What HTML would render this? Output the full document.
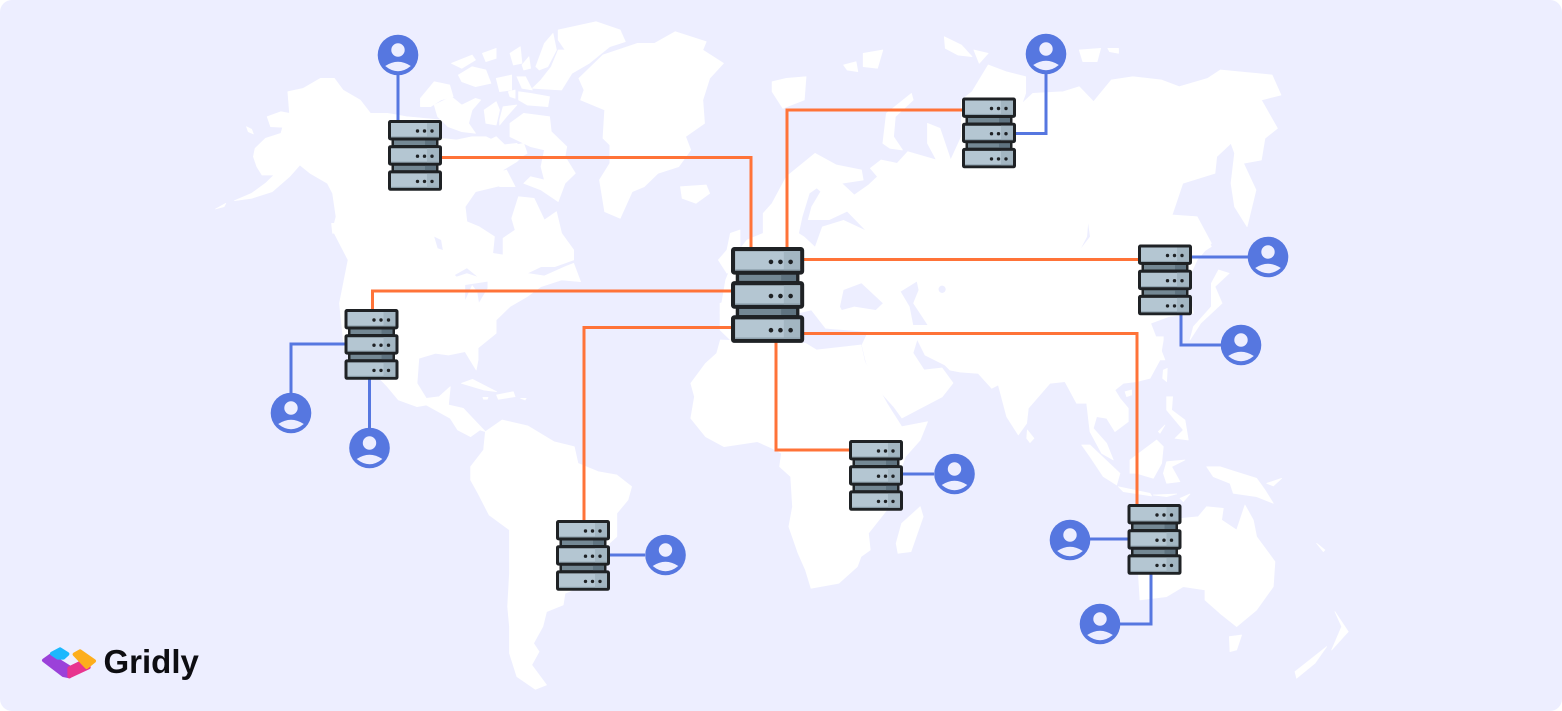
<!DOCTYPE html>
<html><head><meta charset="utf-8"><style>
html,body{margin:0;padding:0;background:#fff;width:1562px;height:711px;overflow:hidden}
svg{display:block}
</style></head><body>
<svg width="1562" height="711" viewBox="0 0 1562 711" xmlns="http://www.w3.org/2000/svg">
<defs>
<g id="unit">
<rect x="1.5" y="1.5" width="51" height="17.4" rx="1" fill="#b4c6d2" stroke="#1f2225" stroke-width="3"/>
<rect x="39" y="3" width="12" height="14.400" fill="#a3b6c2"/>
<rect x="3" y="16.400" width="48" height="1" fill="#8fa2ae"/>
<circle cx="29.500" cy="11" r="1.700" fill="#1f2225"/><circle cx="36.500" cy="11" r="1.700" fill="#1f2225"/><circle cx="44" cy="11" r="1.700" fill="#1f2225"/>
</g>
<g id="band">
<rect x="3.500" y="19" width="47" height="7" fill="#1f2225"/>
<rect x="6" y="20.500" width="42" height="4.500" fill="#748894"/>
<rect x="37" y="20.500" width="11" height="4.500" fill="#5f7380"/>
</g>
<g id="srv">
<use href="#band"/><use href="#band" y="25.200"/>
<use href="#unit"/><use href="#unit" y="25.200"/><use href="#unit" y="50.400"/>
</g>
<g id="usr">
<circle r="20.300" fill="#5677e0"/>
<circle cy="-5" r="6.700" fill="#edeeff"/>
<path d="M-12.800,11 Q0,2.500 12.800,11 Q0,21.500 -12.800,11Z" fill="#edeeff"/>
</g>
</defs>

<rect width="1562" height="711" rx="12" fill="#edeeff"/>

<g fill="#fff" stroke="#fff" stroke-width="2" stroke-linejoin="round">
<g transform="translate(200,10) scale(.3444,.3333)">
<polygon points="100,572 150,550 190,520 215,495 180,495 165,470 155,440 160,415 190,385 235,370 240,352 205,350 195,320 235,305 260,310 255,245 300,235 350,205 390,205 415,240 465,270 495,310 545,310 600,320 700,330 700,385 745,390 790,380 830,380 880,405 920,400 945,430 920,455 880,480 905,520 860,530 800,545 770,590 775,635 810,650 855,680 850,730 880,735 880,685 915,660 905,625 925,560 970,565 1000,630 1035,605 1050,670 1085,720 1085,750 1030,770 990,770 950,790 1000,798 1060,770 1085,760 1105,815 1050,810 990,830 950,860 900,890 860,930 860,970 800,1020 420,1030 405,880 430,750 405,700 385,660 395,620 385,550 370,520 320,490 290,465 260,500 210,545 150,565"/>
<polygon points="640,265 680,215 725,225 735,260 700,270 670,290 640,290"/>
<polygon points="680,285 730,260 760,285 800,265 815,270 790,300 780,340 800,370 760,365 720,350 690,320"/>
<polygon points="825,300 860,275 870,300 860,345 830,340"/>
<polygon points="870,330 880,290 920,285 890,320 870,345"/>
<polygon points="900,340 940,310 1015,320 1020,365 1065,410 1060,440 1090,490 1060,520 1040,575 990,540 940,520 960,500 1000,510 990,470 1000,420 960,410 900,380"/>
<polygon points="800,410 860,380 890,410 940,400 950,430 900,460 850,450"/>
<polygon points="860,490 890,480 915,530 870,530"/>
<polygon points="730,160 790,135 800,150 760,175"/>
<polygon points="750,195 790,170 830,180 845,220 800,230 760,215"/>
<polygon points="860,205 905,195 905,240 870,245"/>
<polygon points="925,245 960,250 1015,260 1010,290 950,285 925,270"/>
<polygon points="920,200 945,200 965,240 935,235"/>
<polygon points="1040,60 1150,35 1220,60 1235,95 1190,110 1130,160 1080,190 1050,240 965,235 990,210 1020,170 1040,120 1060,120 1040,90"/>
<polygon points="975,170 1000,100 1025,70 1035,120 1010,170 985,180"/>
<polygon points="820,130 860,115 860,145 830,155"/>
<polygon points="900,130 930,110 935,160 910,165"/>
<polygon points="935,165 955,140 960,175 940,180"/>
<polygon points="895,245 915,240 915,265 900,260"/>
<polygon points="1100,205 1170,135 1270,100 1320,100 1380,65 1470,95 1460,120 1520,160 1480,205 1460,270 1465,340 1410,380 1425,420 1390,470 1330,490 1290,530 1255,545 1220,625 1175,605 1160,510 1190,460 1190,405 1170,385 1175,300 1105,270 1115,240"/>
<polygon points="1395,530 1470,525 1480,550 1440,580 1400,565"/>
<polygon points="45,597 75,580 70,590"/>
<polygon points="135,350 150,358 155,372 140,365"/>
<polygon points="1505,750 1530,720 1540,670 1568,660 1568,760 1530,790"/>
<polygon points="1510,880 1550,868 1550,1000 1510,960"/>
<polygon points="382,640 392,640 392,670 385,670"/>
</g>
<g fill="#edeeff" stroke="none" transform="translate(200,10) scale(.3444,.3333)">
<polygon points="680,680 700,690 705,720 690,715"/>
<polygon points="740,795 775,775 805,800 775,790 745,800"/>
<polygon points="770,825 835,815 835,835 810,878 805,845 790,825 770,870"/>
</g>
<g transform="translate(740,20) scale(.3571,.3333)">
<polygon points="65,580 90,550 130,470 210,400 270,435 340,450 345,480 285,490 320,525 360,495 385,470 365,445 395,420 440,430 470,395 550,420 525,370 525,310 560,325 590,420 620,350 620,240 650,215 695,135 745,155 800,170 800,220 790,250 820,220 905,215 950,200 990,245 1040,180 1100,170 1180,180 1230,200 1310,175 1345,150 1490,165 1515,225 1460,240 1505,325 1470,355 1460,420 1410,430 1445,510 1420,620 1385,560 1375,490 1385,400 1375,370 1335,410 1330,460 1240,490 1210,585 1280,590 1320,670 1280,720 1250,790 1270,880 1200,890 1150,910 1190,1020 1000,1020 620,1020 530,950 360,935 240,925 200,870 160,880 140,890 -56,880 -40,780 -10,700 20,660 65,640"/>
<polygon points="90,185 130,175 185,170 180,240 120,265 90,215"/>
<polygon points="290,135 325,125 330,155 300,150"/>
<polygon points="345,100 400,90 385,145 345,140"/>
<polygon points="410,280 480,220 485,240 435,290 430,350 455,390 420,385 400,370"/>
<polygon points="572,50 620,75 650,110 610,105 575,85"/>
<polygon points="655,90 695,100 670,130"/>
<polygon points="950,90 1010,85 1000,125 960,125"/>
<polygon points="1030,85 1060,85 1060,100 1035,95"/>
<polygon points="1275,590 1320,680 1290,700 1270,650"/>
<polygon points="1340,750 1370,760 1330,800 1350,850 1290,910 1260,960 1270,920 1320,860 1320,790"/>
</g>
<g fill="#edeeff" stroke="none" transform="translate(740,20) scale(.3571,.3333)">
<polygon points="165,640 175,590 195,520 215,505 225,515 200,560 190,600 250,600 300,575 350,630 290,600 230,620 210,680 180,650"/>
<polygon points="280,860 290,810 340,790 400,850 380,870 320,860 285,870"/>
<polygon points="450,815 495,785 500,810 485,850 525,915 485,915 475,860"/>
<ellipse cx="566" cy="808" rx="10" ry="11"/>
<polygon points="975,610 980,650 955,685 972,650"/>
</g>
<polygon points="862,345 869,330 920,330 913,353 924,370 942,368 953,383 942,397 902,418 894,407 876,387 866,362" stroke-width=".7"/>
<polygon points="915,335 1000,335 1000,375 960,372 950,370 945,365 925,355" stroke-width=".7"/>
<g transform="translate(380,340) scale(.37,.3333)">
<polygon points="-95,0 -50,60 20,140 50,180 100,200 125,195 190,235 210,270 245,290 270,270 285,275 225,205 185,195 190,140 160,170 125,175 100,130 105,55 150,40 185,45 230,35 260,90 265,60 265,10 285,0"/>
<polygon points="220,130 250,118 315,155 280,150"/>
<polygon points="315,165 360,155 365,170 320,178"/>
<polygon points="278,172 292,172 290,178 280,178"/>
<polygon points="380,175 395,175 392,180"/>
<polygon points="285,275 330,240 400,258 470,305 525,320 535,370 590,395 640,405 680,440 670,480 640,520 640,590 620,610 610,690 590,720 500,760 495,795 450,815 440,860 415,910 430,935 410,975 450,1035 420,1048 370,1010 350,940 350,860 345,800 350,700 350,570 295,525 265,460 245,420 245,380 280,330"/>
<polygon points="840,130 880,70 910,40 920,0 1150,10 1180,30 1300,15 1310,65 1340,130 1370,190 1410,260 1480,245 1460,300 1420,350 1410,380 1370,510 1320,580 1325,630 1300,650 1290,680 1240,730 1165,745 1150,690 1130,640 1105,560 1115,500 1110,410 1080,380 1085,340 1060,325 1020,305 930,320 880,290 840,235 850,170"/>
<polygon points="1460,500 1468,530 1435,635 1400,640 1395,610 1410,550"/>
</g>
<g transform="translate(950,340) scale(.3333)">
<polygon points="640,0 630,60 600,115 560,125 520,130 495,150 510,175 535,205 535,245 495,275 470,235 440,230 430,265 470,310 490,360 455,340 420,275 410,190 380,190 345,125 300,130 235,205 230,250 205,285 170,230 145,135 125,145 80,95 30,95 0,90 -30,60 -30,-10 640,-10"/>
<polygon points="640,90 652,85 650,125 638,115"/>
<polygon points="525,155 545,150 545,165 530,170"/>
<polygon points="650,170 668,170 665,210 705,240 715,300 675,295 700,270 650,210"/>
<polygon points="625,275 645,255 630,280"/>
<polygon points="540,360 620,300 640,320 635,370 610,415 560,400 540,400"/>
<polygon points="650,365 705,360 665,380 690,425 650,430 640,400"/>
<polygon points="395,315 420,315 510,400 500,435 460,410 420,350"/>
<polygon points="505,440 600,460 605,468 520,455"/>
<polygon points="610,465 680,462 650,470"/>
<polygon points="690,475 720,462 700,485"/>
<polygon points="770,380 810,380 840,390 920,415 945,450 970,490 920,470 850,460 840,430 790,410"/>
<polygon points="950,430 995,415 970,438"/>
<polygon points="232,270 252,295 240,308 230,295"/>
<polygon points="695,535 745,530 770,500 820,505 815,540 860,570 885,495 910,540 920,590 975,665 970,740 920,810 860,860 810,820 765,780 765,750 700,740 650,770 570,780 565,700 540,700 600,600"/>
<polygon points="838,890 875,885 860,930 840,935"/>
<polygon points="1155,815 1195,875 1145,930 1175,860"/>
<polygon points="1035,995 1130,920 1095,970 1040,1015"/>
<polygon points="1100,610 1125,630 1120,635"/>
</g>
</g>

<g fill="none" stroke="#ff7338" stroke-width="3">
<path d="M442,157.500 H751 V248"/>
<path d="M787,248 V110 H962"/>
<path d="M804,259.500 H1138"/>
<path d="M732,291 H372.500 V310"/>
<path d="M732,327.500 H584 V521"/>
<path d="M804,333.500 H1137 V505"/>
<path d="M776,342 V450 H850"/>
</g>
<g fill="none" stroke="#5677e0" stroke-width="3">
<path d="M398,75 V120"/>
<path d="M1015,133.500 H1046 V74"/>
<path d="M1190,257 H1248"/>
<path d="M1181,315 V345 H1221"/>
<path d="M345,344 H291 V393"/>
<path d="M369.500,378 V428"/>
<path d="M609,555 H645"/>
<path d="M902,474 H934"/>
<path d="M1128,539 H1090"/>
<path d="M1151,574 V624 H1120"/>
</g>

<use href="#srv" x="388" y="120"/>
<use href="#srv" x="962" y="97.500"/>
<use href="#srv" x="1138" y="244.500"/>
<use href="#srv" x="344.500" y="309"/>
<use href="#srv" x="556" y="520"/>
<use href="#srv" x="849" y="440"/>
<use href="#srv" x="1127.500" y="504"/>
<use href="#srv" transform="translate(731,247) scale(1.355)"/>

<use href="#usr" x="398" y="55"/>
<use href="#usr" x="1046" y="54"/>
<use href="#usr" x="1268" y="257"/>
<use href="#usr" x="1241" y="345"/>
<use href="#usr" x="291" y="413"/>
<use href="#usr" x="369.500" y="448"/>
<use href="#usr" x="665.500" y="555"/>
<use href="#usr" x="954.500" y="474"/>
<use href="#usr" x="1070" y="540"/>
<use href="#usr" x="1100" y="624"/>

<g transform="translate(30,635) scale(.3333)" stroke-linejoin="round" stroke-width="12">
<polygon points="42,76 62,62 118,97 118,124 100,120" fill="#9b41d9" stroke="#9b41d9"/>
<polygon points="118,100 150,84 176,97 118,124" fill="#e8348f" stroke="#e8348f"/>
<polygon points="66,56 90,43 112,57 100,68 84,68" fill="#1cb8fd" stroke="#1cb8fd"/>
<polygon points="134,58 150,49 192,78 170,96" fill="#fdae1c" stroke="#fdae1c"/>
</g>
<text x="103.500" y="673" font-family="'Liberation Sans',sans-serif" font-weight="700" font-size="33" fill="#0d0d12">Gridly</text>
</svg>
</body></html>
